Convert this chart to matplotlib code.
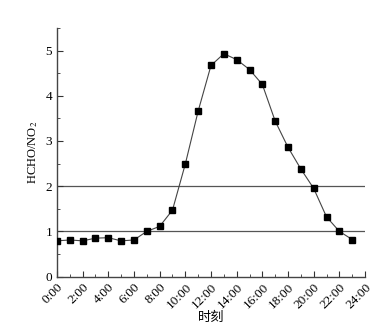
import matplotlib
matplotlib.use("Agg")
import matplotlib.pyplot as plt
from matplotlib.ticker import MultipleLocator

# hourly HCHO/NO2 ratio
hours = list(range(24))
ratio = [0.79, 0.81, 0.79, 0.85, 0.86, 0.79, 0.81, 1.00, 1.11, 1.47,
         2.49, 3.66, 4.67, 4.93, 4.80, 4.58, 4.25, 3.44, 2.86, 2.38,
         1.95, 1.32, 1.00, 0.82]
tick_hours = list(range(0, 25, 2))
tick_labels = ["%d:00" % h for h in tick_hours]
ref_levels = [1, 2]

plt.rcParams['font.family'] = ['Liberation Serif', 'Noto Sans CJK SC']
plt.rcParams['mathtext.fontset'] = 'stix'

fig = plt.figure(figsize=(3.9, 3.25), dpi=100)
ax = fig.add_axes([0.146, 0.149, 0.79, 0.765])

# reference lines
for lvl in ref_levels:
    ax.axhline(lvl, color='#555555', lw=0.9, zorder=1)

ax.plot(hours, ratio, color='#444444', lw=0.8, marker='s', ms=4.7,
        mfc='black', mec='black', zorder=3)

ax.set_xlim(0, 24)
ax.set_ylim(0, 5.5)
ax.set_xticks(tick_hours)
ax.set_xticklabels(tick_labels, rotation=45, ha='right', rotation_mode='anchor',
                   fontsize=9.5)
ax.xaxis.set_minor_locator(MultipleLocator(1))
ax.yaxis.set_major_locator(MultipleLocator(1))
ax.yaxis.set_minor_locator(MultipleLocator(0.5))
ax.tick_params(axis='y', labelsize=9.5)
ax.tick_params(which='both', direction='in', color='#333333')
ax.tick_params(which='major', length=4)
ax.tick_params(which='minor', length=2)

for side in ['top', 'right']:
    ax.spines[side].set_visible(False)
for side in ['left', 'bottom']:
    ax.spines[side].set_color('#444444')
    ax.spines[side].set_linewidth(1.0)

ax.set_ylabel('HCHO/NO$_2$', fontsize=9)
ax.set_xlabel('时刻', fontsize=9.5, family=['Noto Sans CJK SC'], labelpad=0)

fig.savefig('out.png', dpi=100)
